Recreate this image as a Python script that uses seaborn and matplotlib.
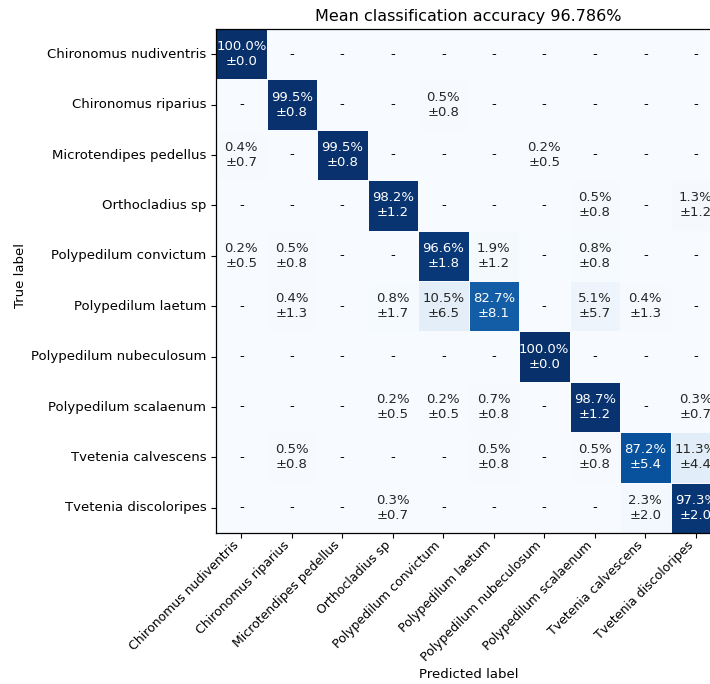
import numpy as np
import pandas as pd
import matplotlib
matplotlib.use("Agg")
import matplotlib.pyplot as plt
import seaborn as sns

species = [
    "Chironomus nudiventris",
    "Chironomus riparius",
    "Microtendipes pedellus",
    "Orthocladius sp",
    "Polypedilum convictum",
    "Polypedilum laetum",
    "Polypedilum nubeculosum",
    "Polypedilum scalaenum",
    "Tvetenia calvescens",
    "Tvetenia discoloripes",
]

# mean accuracy (%) per true label (rows) and predicted label (columns)
mean_acc = [
    [100.0, 0, 0, 0, 0, 0, 0, 0, 0, 0],
    [0, 99.5, 0, 0, 0.5, 0, 0, 0, 0, 0],
    [0.4, 0, 99.5, 0, 0, 0, 0.2, 0, 0, 0],
    [0, 0, 0, 98.2, 0, 0, 0, 0.5, 0, 1.3],
    [0.2, 0.5, 0, 0, 96.6, 1.9, 0, 0.8, 0, 0],
    [0, 0.4, 0, 0.8, 10.5, 82.7, 0, 5.1, 0.4, 0],
    [0, 0, 0, 0, 0, 0, 100.0, 0, 0, 0],
    [0, 0, 0, 0.2, 0.2, 0.7, 0, 98.7, 0, 0.3],
    [0, 0.5, 0, 0, 0, 0.5, 0, 0.5, 87.2, 11.3],
    [0, 0, 0, 0.3, 0, 0, 0, 0, 2.3, 97.3],
]

# standard deviation (%) of each cell
std_acc = [
    [0.0, 0, 0, 0, 0, 0, 0, 0, 0, 0],
    [0, 0.8, 0, 0, 0.8, 0, 0, 0, 0, 0],
    [0.7, 0, 0.8, 0, 0, 0, 0.5, 0, 0, 0],
    [0, 0, 0, 1.2, 0, 0, 0, 0.8, 0, 1.2],
    [0.5, 0.8, 0, 0, 1.8, 1.2, 0, 0.8, 0, 0],
    [0, 1.3, 0, 1.7, 6.5, 8.1, 0, 5.7, 1.3, 0],
    [0, 0, 0, 0, 0, 0, 0.0, 0, 0, 0],
    [0, 0, 0, 0.5, 0.5, 0.8, 0, 1.2, 0, 0.7],
    [0, 0.8, 0, 0, 0, 0.8, 0, 0.8, 5.4, 4.4],
    [0, 0, 0, 0.7, 0, 0, 0, 0, 2.0, 2.0],
]

title_text = "Mean classification accuracy 96.786%"

M = np.array(mean_acc, dtype=float)
S = np.array(std_acc, dtype=float)
df = pd.DataFrame(M, index=species, columns=species)

labels = np.empty(M.shape, dtype=object)
for i in range(M.shape[0]):
    for j in range(M.shape[1]):
        labels[i, j] = "-" if M[i, j] == 0 else f"{M[i, j]:.1f}%\n\u00b1{S[i, j]:.1f}"

fig = plt.figure(figsize=(7.10, 6.84), dpi=100)
W, H = 710, 684
left, right, top, bottom = 216, 721, 29, 533
ax = fig.add_axes([left / W, (H - bottom) / H, (right - left) / W, (bottom - top) / H])

sns.heatmap(df, ax=ax, annot=labels, fmt="", cmap="Blues", vmin=0, vmax=100,
            cbar=False, linewidths=0.6, linecolor="#f7fbff",
            annot_kws={"fontsize": 9.5})

for t in ax.texts:
    if t.get_text() == "-":
        t.set_color("black")

for s in ax.spines.values():
    s.set_visible(True)
    s.set_color("black")
    s.set_linewidth(0.9)

ax.tick_params(axis="both", which="both", length=3.5, width=0.8)
ax.tick_params(axis="x", pad=0.5)
ax.set_xticklabels(species, rotation=45, ha="right", fontsize=9)
ax.set_yticklabels(species, rotation=0, fontsize=9.5)
ax.set_xlabel("Predicted label", fontsize=9.5, labelpad=3)
ax.set_ylabel("True label", fontsize=9.5, labelpad=3, y=0.51)
ax.set_title(title_text, fontsize=11.5, pad=6)

fig.savefig("out.png", dpi=100)
